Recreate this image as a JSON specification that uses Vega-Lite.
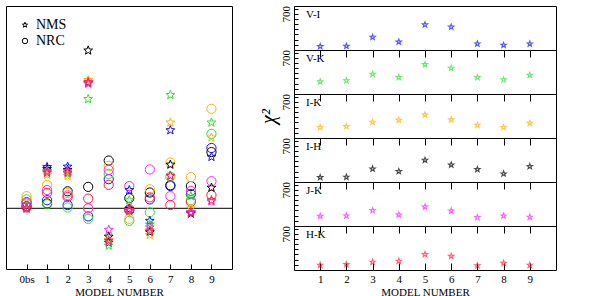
{
  "$schema": "https://vega.github.io/schema/vega-lite/v6.json",
  "padding": 5,
  "spacing": 24,
  "resolve": {"scale": {"shape": "independent", "color": "independent"}, "legend": {"shape": "independent", "color": "independent"}},
  "hconcat": [
    {
      "width": 226,
      "height": 263,
      "layer": [
        {
          "data": {"values": [{"ref": 1}]},
          "mark": {"type": "rule", "color": "#000", "strokeWidth": 1},
          "encoding": {"y": {"field": "ref", "type": "quantitative", "scale": {"domain": [-0.5, 6], "nice": false, "zero": false}, "axis": null}}
        },
        {
          "data": {"values": [
            {"model": 0, "kind": "RC", "band": "I-H", "v": 1.05}, {"model": 0, "kind": "RC", "band": "V-I", "v": 1.15}, {"model": 0, "kind": "RC", "band": "V-K", "v": 1.22}, {"model": 0, "kind": "RC", "band": "I-K", "v": 1.3}, {"model": 0, "kind": "RC", "band": "J-K", "v": 1.12}, {"model": 0, "kind": "RC", "band": "H-K", "v": 1.02},
            {"model": 0, "kind": "MS", "band": "I-H", "v": 1.0}, {"model": 0, "kind": "MS", "band": "V-I", "v": 1.0}, {"model": 0, "kind": "MS", "band": "V-K", "v": 1.0}, {"model": 0, "kind": "MS", "band": "I-K", "v": 1.0}, {"model": 0, "kind": "MS", "band": "J-K", "v": 1.0}, {"model": 0, "kind": "MS", "band": "H-K", "v": 1.0},
            {"model": 1, "kind": "RC", "band": "I-H", "v": 1.12}, {"model": 1, "kind": "RC", "band": "V-I", "v": 1.2}, {"model": 1, "kind": "RC", "band": "V-K", "v": 1.1}, {"model": 1, "kind": "RC", "band": "I-K", "v": 1.58}, {"model": 1, "kind": "RC", "band": "J-K", "v": 1.45}, {"model": 1, "kind": "RC", "band": "H-K", "v": 1.38},
            {"model": 1, "kind": "MS", "band": "I-H", "v": 1.97}, {"model": 1, "kind": "MS", "band": "V-I", "v": 2.02}, {"model": 1, "kind": "MS", "band": "V-K", "v": 1.9}, {"model": 1, "kind": "MS", "band": "I-K", "v": 1.83}, {"model": 1, "kind": "MS", "band": "J-K", "v": 1.92}, {"model": 1, "kind": "MS", "band": "H-K", "v": 1.88},
            {"model": 2, "kind": "RC", "band": "I-H", "v": 1.42}, {"model": 2, "kind": "RC", "band": "V-I", "v": 1.08}, {"model": 2, "kind": "RC", "band": "V-K", "v": 1.02}, {"model": 2, "kind": "RC", "band": "I-K", "v": 1.38}, {"model": 2, "kind": "RC", "band": "J-K", "v": 1.32}, {"model": 2, "kind": "RC", "band": "H-K", "v": 1.28},
            {"model": 2, "kind": "MS", "band": "I-H", "v": 1.95}, {"model": 2, "kind": "MS", "band": "V-I", "v": 2.03}, {"model": 2, "kind": "MS", "band": "V-K", "v": 1.85}, {"model": 2, "kind": "MS", "band": "I-K", "v": 1.8}, {"model": 2, "kind": "MS", "band": "J-K", "v": 1.92}, {"model": 2, "kind": "MS", "band": "H-K", "v": 1.88},
            {"model": 3, "kind": "RC", "band": "I-H", "v": 1.53}, {"model": 3, "kind": "RC", "band": "V-I", "v": 0.8}, {"model": 3, "kind": "RC", "band": "V-K", "v": 0.74}, {"model": 3, "kind": "RC", "band": "I-K", "v": 1.0}, {"model": 3, "kind": "RC", "band": "J-K", "v": 1.0}, {"model": 3, "kind": "RC", "band": "H-K", "v": 1.24},
            {"model": 3, "kind": "MS", "band": "I-H", "v": 4.9}, {"model": 3, "kind": "MS", "band": "V-I", "v": 4.1}, {"model": 3, "kind": "MS", "band": "V-K", "v": 3.7}, {"model": 3, "kind": "MS", "band": "I-K", "v": 4.17}, {"model": 3, "kind": "MS", "band": "J-K", "v": 4.08}, {"model": 3, "kind": "MS", "band": "H-K", "v": 4.12},
            {"model": 4, "kind": "RC", "band": "I-H", "v": 2.18}, {"model": 4, "kind": "RC", "band": "V-I", "v": 1.72}, {"model": 4, "kind": "RC", "band": "V-K", "v": 1.85}, {"model": 4, "kind": "RC", "band": "I-K", "v": 2.05}, {"model": 4, "kind": "RC", "band": "J-K", "v": 1.95}, {"model": 4, "kind": "RC", "band": "H-K", "v": 1.58},
            {"model": 4, "kind": "MS", "band": "I-H", "v": 0.3}, {"model": 4, "kind": "MS", "band": "V-I", "v": 0.15}, {"model": 4, "kind": "MS", "band": "V-K", "v": 0.08}, {"model": 4, "kind": "MS", "band": "I-K", "v": 0.22}, {"model": 4, "kind": "MS", "band": "J-K", "v": 0.47}, {"model": 4, "kind": "MS", "band": "H-K", "v": 0.2},
            {"model": 5, "kind": "RC", "band": "I-H", "v": 1.25}, {"model": 5, "kind": "RC", "band": "V-I", "v": 0.95}, {"model": 5, "kind": "RC", "band": "V-K", "v": 0.69}, {"model": 5, "kind": "RC", "band": "I-K", "v": 0.74}, {"model": 5, "kind": "RC", "band": "J-K", "v": 1.55}, {"model": 5, "kind": "RC", "band": "H-K", "v": 0.98},
            {"model": 5, "kind": "MS", "band": "I-H", "v": 0.98}, {"model": 5, "kind": "MS", "band": "V-I", "v": 1.45}, {"model": 5, "kind": "MS", "band": "V-K", "v": 1.2}, {"model": 5, "kind": "MS", "band": "I-K", "v": 0.95}, {"model": 5, "kind": "MS", "band": "J-K", "v": 0.96}, {"model": 5, "kind": "MS", "band": "H-K", "v": 0.94},
            {"model": 6, "kind": "RC", "band": "I-H", "v": 1.39}, {"model": 6, "kind": "RC", "band": "V-I", "v": 1.22}, {"model": 6, "kind": "RC", "band": "V-K", "v": 0.9}, {"model": 6, "kind": "RC", "band": "I-K", "v": 1.47}, {"model": 6, "kind": "RC", "band": "J-K", "v": 1.96}, {"model": 6, "kind": "RC", "band": "H-K", "v": 1.27},
            {"model": 6, "kind": "MS", "band": "I-H", "v": 0.41}, {"model": 6, "kind": "MS", "band": "V-I", "v": 0.69}, {"model": 6, "kind": "MS", "band": "V-K", "v": 0.6}, {"model": 6, "kind": "MS", "band": "I-K", "v": 0.34}, {"model": 6, "kind": "MS", "band": "J-K", "v": 0.53}, {"model": 6, "kind": "MS", "band": "H-K", "v": 0.45},
            {"model": 7, "kind": "RC", "band": "I-H", "v": 1.57}, {"model": 7, "kind": "RC", "band": "V-I", "v": 1.55}, {"model": 7, "kind": "RC", "band": "V-K", "v": 1.78}, {"model": 7, "kind": "RC", "band": "I-K", "v": 2.13}, {"model": 7, "kind": "RC", "band": "J-K", "v": 1.3}, {"model": 7, "kind": "RC", "band": "H-K", "v": 1.08},
            {"model": 7, "kind": "MS", "band": "I-H", "v": 2.08}, {"model": 7, "kind": "MS", "band": "V-I", "v": 2.93}, {"model": 7, "kind": "MS", "band": "V-K", "v": 3.8}, {"model": 7, "kind": "MS", "band": "I-K", "v": 3.12}, {"model": 7, "kind": "MS", "band": "J-K", "v": 1.81}, {"model": 7, "kind": "MS", "band": "H-K", "v": 1.8},
            {"model": 8, "kind": "RC", "band": "I-H", "v": 1.55}, {"model": 8, "kind": "RC", "band": "V-I", "v": 1.35}, {"model": 8, "kind": "RC", "band": "V-K", "v": 1.2}, {"model": 8, "kind": "RC", "band": "I-K", "v": 1.77}, {"model": 8, "kind": "RC", "band": "J-K", "v": 1.43}, {"model": 8, "kind": "RC", "band": "H-K", "v": 1.16},
            {"model": 8, "kind": "MS", "band": "I-H", "v": 0.87}, {"model": 8, "kind": "MS", "band": "V-I", "v": 0.9}, {"model": 8, "kind": "MS", "band": "V-K", "v": 1.3}, {"model": 8, "kind": "MS", "band": "I-K", "v": 1.0}, {"model": 8, "kind": "MS", "band": "J-K", "v": 0.91}, {"model": 8, "kind": "MS", "band": "H-K", "v": 0.88},
            {"model": 9, "kind": "RC", "band": "I-H", "v": 2.39}, {"model": 9, "kind": "RC", "band": "V-I", "v": 2.49}, {"model": 9, "kind": "RC", "band": "V-K", "v": 2.84}, {"model": 9, "kind": "RC", "band": "I-K", "v": 3.46}, {"model": 9, "kind": "RC", "band": "J-K", "v": 1.67}, {"model": 9, "kind": "RC", "band": "H-K", "v": 1.33},
            {"model": 9, "kind": "MS", "band": "I-H", "v": 1.51}, {"model": 9, "kind": "MS", "band": "V-I", "v": 2.27}, {"model": 9, "kind": "MS", "band": "V-K", "v": 3.12}, {"model": 9, "kind": "MS", "band": "I-K", "v": 2.75}, {"model": 9, "kind": "MS", "band": "J-K", "v": 1.17}, {"model": 9, "kind": "MS", "band": "H-K", "v": 1.2}
          ]},
          "mark": {"type": "point", "filled": false, "strokeWidth": 1, "size": 85, "opacity": 1},
          "encoding": {
            "x": {"field": "model", "type": "quantitative", "scale": {"domain": [-1, 10], "nice": false, "zero": false},
              "axis": {"values": [0, 1, 2, 3, 4, 5, 6, 7, 8, 9], "labelExpr": "datum.value == 0 ? '0bs' : datum.label", "tickSize": -5, "labelPadding": 9, "title": "MODEL NUMBER", "titlePadding": 2}},
            "y": {"field": "v", "type": "quantitative", "scale": {"domain": [-0.5, 6], "nice": false, "zero": false},
              "axis": {"values": [-0.4, -0.2, 0, 0.2, 0.4, 0.6, 0.8, 1, 1.2, 1.4, 1.6, 1.8, 2, 2.2, 2.4, 2.6, 2.8, 3, 3.2, 3.4, 3.6, 3.8, 4, 4.2, 4.4, 4.6, 4.8, 5, 5.2, 5.4, 5.6, 5.8],
                "labelExpr": "abs(datum.value - round(datum.value)) < 0.001 ? format(datum.value, 'd') : ''",
                "tickSize": -4, "labelAngle": -90, "labelPadding": 8,
                "title": ["Nmod\u00a0\u00a0\u00a0\u00a0\u00a0\u00a0\u00a0\u00a0\u00a0\u00a0\u00a0\u00a0\u00a0\u00a0\u00a0\u00a0\u00a0\u00a0\u00a0\u00a0\u00a0\u00a0\u00a0\u00a0\u00a0\u00a0\u00a0NobsMS", "\u2014\u2014\u2014\u2014\u2014\u00a0\u00a0\u00a0\u00a0\u00a0\u00a0\u00a0\u00a0\u00a0\u00a0/\u00a0\u00a0\u00a0\u00a0\u00a0\u00a0\u00a0\u00a0\u00a0\u00a0\u2014\u2014\u2014\u2014\u2014", "Nmod(RGB)\u00a0\u00a0\u00a0\u00a0\u00a0\u00a0\u00a0\u00a0\u00a0\u00a0\u00a0\u00a0\u00a0\u00a0\u00a0\u00a0\u00a0\u00a0\u00a0\u00a0\u00a0\u00a0Nobs(RGB)"],
                "titleFontSize": 9, "titleLineHeight": 7, "titlePadding": 4}},
            "shape": {"field": "kind", "type": "nominal", "scale": {"domain": ["MS", "RC"], "range": ["M0,-1L0.25,-0.34L0.951,-0.309L0.4,0.13L0.588,0.809L0,0.42L-0.588,0.809L-0.4,0.13L-0.951,-0.309L-0.25,-0.34Z", "circle"]},
              "legend": {"orient": "top-left", "title": null, "offset": 12, "labelFontSize": 14, "symbolSize": 30, "symbolStrokeColor": "#000", "symbolStrokeWidth": 1, "labelExpr": "datum.label == 'MS' ? 'NMS' : 'NRC'"}},
            "color": {"field": "band", "type": "nominal", "scale": {"domain": ["I-H", "V-I", "V-K", "I-K", "J-K", "H-K"], "range": ["#000000", "#1010ff", "#33dd33", "#ffb000", "#ff20ff", "#ff2040"]}, "legend": null}
          }
        }
      ]
    },
    {
      "spacing": 0,
      "bounds": "flush",
      "vconcat": [
        {
          "width": 262, "height": 44,
          "title": {"text": "V-I", "anchor": "start", "frame": "group", "dx": 12, "dy": 18},
          "data": {"values": [{"model": 1, "chi2": 69}, {"model": 2, "chi2": 76}, {"model": 3, "chi2": 248}, {"model": 4, "chi2": 158}, {"model": 5, "chi2": 489}, {"model": 6, "chi2": 445}, {"model": 7, "chi2": 120}, {"model": 8, "chi2": 95}, {"model": 9, "chi2": 120}]},
          "mark": {"type": "point", "shape": "M0,-1L0.25,-0.34L0.951,-0.309L0.4,0.13L0.588,0.809L0,0.42L-0.588,0.809L-0.4,0.13L-0.951,-0.309L-0.25,-0.34Z", "filled": false, "size": 30, "strokeWidth": 1.2, "color": "#1010ff"},
          "encoding": {
            "x": {"field": "model", "type": "quantitative", "scale": {"domain": [0, 10], "nice": false, "zero": false}, "axis": {"values": [1, 2, 3, 4, 5, 6, 7, 8, 9], "labels": false, "title": null, "tickSize": 7}},
            "y": {"field": "chi2", "type": "quantitative", "scale": {"domain": [0, 850], "nice": false, "zero": false}, "axis": {"values": [100, 200, 300, 400, 500, 600, 700, 800], "labelExpr": "datum.value == 700 ? '700' : ''", "labelAngle": -90, "labelPadding": 7, "title": null, "tickSize": -4}}
          }
        },
        {
          "width": 262, "height": 44,
          "title": {"text": "V-K", "anchor": "start", "frame": "group", "dx": 12, "dy": 18},
          "data": {"values": [{"model": 1, "chi2": 238}, {"model": 2, "chi2": 257}, {"model": 3, "chi2": 384}, {"model": 4, "chi2": 321}, {"model": 5, "chi2": 570}, {"model": 6, "chi2": 499}, {"model": 7, "chi2": 321}, {"model": 8, "chi2": 276}, {"model": 9, "chi2": 365}]},
          "mark": {"type": "point", "shape": "M0,-1L0.25,-0.34L0.951,-0.309L0.4,0.13L0.588,0.809L0,0.42L-0.588,0.809L-0.4,0.13L-0.951,-0.309L-0.25,-0.34Z", "filled": false, "size": 30, "strokeWidth": 1.2, "color": "#33dd33"},
          "encoding": {
            "x": {"field": "model", "type": "quantitative", "scale": {"domain": [0, 10], "nice": false, "zero": false}, "axis": {"values": [1, 2, 3, 4, 5, 6, 7, 8, 9], "labels": false, "title": null, "tickSize": 7}},
            "y": {"field": "chi2", "type": "quantitative", "scale": {"domain": [0, 850], "nice": false, "zero": false}, "axis": {"values": [100, 200, 300, 400, 500, 600, 700, 800], "labelExpr": "datum.value == 700 ? '700' : ''", "labelAngle": -90, "labelPadding": 7, "title": null, "tickSize": -4}}
          }
        },
        {
          "width": 262, "height": 44,
          "title": {"text": "I-K", "anchor": "start", "frame": "group", "dx": 12, "dy": 18},
          "data": {"values": [{"model": 1, "chi2": 205}, {"model": 2, "chi2": 225}, {"model": 3, "chi2": 307}, {"model": 4, "chi2": 346}, {"model": 5, "chi2": 449}, {"model": 6, "chi2": 353}, {"model": 7, "chi2": 250}, {"model": 8, "chi2": 205}, {"model": 9, "chi2": 288}]},
          "mark": {"type": "point", "shape": "M0,-1L0.25,-0.34L0.951,-0.309L0.4,0.13L0.588,0.809L0,0.42L-0.588,0.809L-0.4,0.13L-0.951,-0.309L-0.25,-0.34Z", "filled": false, "size": 30, "strokeWidth": 1.2, "color": "#ffb000"},
          "encoding": {
            "x": {"field": "model", "type": "quantitative", "scale": {"domain": [0, 10], "nice": false, "zero": false}, "axis": {"values": [1, 2, 3, 4, 5, 6, 7, 8, 9], "labels": false, "title": null, "tickSize": 7}},
            "y": {"field": "chi2", "type": "quantitative", "scale": {"domain": [0, 850], "nice": false, "zero": false}, "axis": {"values": [100, 200, 300, 400, 500, 600, 700, 800], "labelExpr": "datum.value == 700 ? '700' : ''", "labelAngle": -90, "labelPadding": 7, "title": "χ²", "titleFontSize": 20, "titleFontStyle": "italic", "titlePadding": 2, "tickSize": -4}}
          }
        },
        {
          "width": 262, "height": 44,
          "title": {"text": "I-H", "anchor": "start", "frame": "group", "dx": 12, "dy": 18},
          "data": {"values": [{"model": 1, "chi2": 90}, {"model": 2, "chi2": 96}, {"model": 3, "chi2": 255}, {"model": 4, "chi2": 205}, {"model": 5, "chi2": 422}, {"model": 6, "chi2": 332}, {"model": 7, "chi2": 244}, {"model": 8, "chi2": 159}, {"model": 9, "chi2": 301}]},
          "mark": {"type": "point", "shape": "M0,-1L0.25,-0.34L0.951,-0.309L0.4,0.13L0.588,0.809L0,0.42L-0.588,0.809L-0.4,0.13L-0.951,-0.309L-0.25,-0.34Z", "filled": false, "size": 30, "strokeWidth": 1.2, "color": "#000000"},
          "encoding": {
            "x": {"field": "model", "type": "quantitative", "scale": {"domain": [0, 10], "nice": false, "zero": false}, "axis": {"values": [1, 2, 3, 4, 5, 6, 7, 8, 9], "labels": false, "title": null, "tickSize": 7}},
            "y": {"field": "chi2", "type": "quantitative", "scale": {"domain": [0, 850], "nice": false, "zero": false}, "axis": {"values": [100, 200, 300, 400, 500, 600, 700, 800], "labelExpr": "datum.value == 700 ? '700' : ''", "labelAngle": -90, "labelPadding": 7, "title": null, "tickSize": -4}}
          }
        },
        {
          "width": 262, "height": 44,
          "title": {"text": "J-K", "anchor": "start", "frame": "group", "dx": 12, "dy": 18},
          "data": {"values": [{"model": 1, "chi2": 192}, {"model": 2, "chi2": 198}, {"model": 3, "chi2": 300}, {"model": 4, "chi2": 217}, {"model": 5, "chi2": 371}, {"model": 6, "chi2": 294}, {"model": 7, "chi2": 165}, {"model": 8, "chi2": 198}, {"model": 9, "chi2": 173}]},
          "mark": {"type": "point", "shape": "M0,-1L0.25,-0.34L0.951,-0.309L0.4,0.13L0.588,0.809L0,0.42L-0.588,0.809L-0.4,0.13L-0.951,-0.309L-0.25,-0.34Z", "filled": false, "size": 30, "strokeWidth": 1.2, "color": "#ff20ff"},
          "encoding": {
            "x": {"field": "model", "type": "quantitative", "scale": {"domain": [0, 10], "nice": false, "zero": false}, "axis": {"values": [1, 2, 3, 4, 5, 6, 7, 8, 9], "labels": false, "title": null, "tickSize": 7}},
            "y": {"field": "chi2", "type": "quantitative", "scale": {"domain": [0, 850], "nice": false, "zero": false}, "axis": {"values": [100, 200, 300, 400, 500, 600, 700, 800], "labelExpr": "datum.value == 700 ? '700' : ''", "labelAngle": -90, "labelPadding": 7, "title": null, "tickSize": -4}}
          }
        },
        {
          "width": 262, "height": 44,
          "title": {"text": "H-K", "anchor": "start", "frame": "group", "dx": 12, "dy": 18},
          "data": {"values": [{"model": 1, "chi2": 96}, {"model": 2, "chi2": 109}, {"model": 3, "chi2": 154}, {"model": 4, "chi2": 173}, {"model": 5, "chi2": 301}, {"model": 6, "chi2": 269}, {"model": 7, "chi2": 84}, {"model": 8, "chi2": 134}, {"model": 9, "chi2": 96}]},
          "mark": {"type": "point", "shape": "M0,-1L0.25,-0.34L0.951,-0.309L0.4,0.13L0.588,0.809L0,0.42L-0.588,0.809L-0.4,0.13L-0.951,-0.309L-0.25,-0.34Z", "filled": false, "size": 30, "strokeWidth": 1.2, "color": "#ff2040"},
          "encoding": {
            "x": {"field": "model", "type": "quantitative", "scale": {"domain": [0, 10], "nice": false, "zero": false}, "axis": {"values": [1, 2, 3, 4, 5, 6, 7, 8, 9], "title": "MODEL NUMBER", "titlePadding": 2, "tickSize": -7, "labelPadding": 10}},
            "y": {"field": "chi2", "type": "quantitative", "scale": {"domain": [0, 850], "nice": false, "zero": false}, "axis": {"values": [100, 200, 300, 400, 500, 600, 700, 800], "labelExpr": "datum.value == 700 ? '700' : ''", "labelAngle": -90, "labelPadding": 7, "title": null, "tickSize": -4}}
          }
        }
      ]
    }
  ],
  "config": {
    "font": "Liberation Serif",
    "view": {"stroke": "#000", "strokeWidth": 1},
    "axis": {"domain": false, "grid": false, "tickColor": "#000", "labelColor": "#000", "labelFontSize": 11, "titleFontWeight": "normal", "titleColor": "#000", "titleFontSize": 11},
    "title": {"fontSize": 11, "fontWeight": "normal", "color": "#000", "offset": 0}
  }
}
